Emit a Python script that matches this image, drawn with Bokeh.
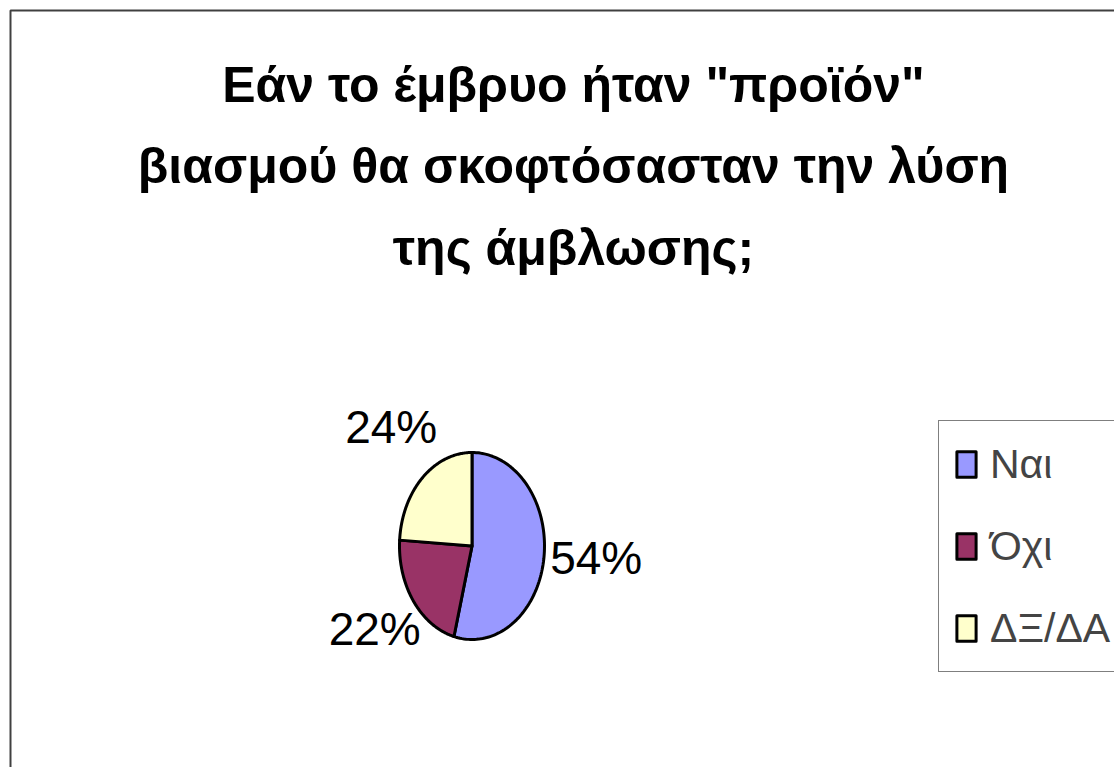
import numpy as np
from bokeh.plotting import figure
from bokeh.models import ColumnDataSource, Range1d, Label, BoxAnnotation
from bokeh.embed import file_html
from bokeh.resources import INLINE
from bokeh.core.properties import value

# ---- data ----
title_lines = ['Εάν το έμβρυο ήταν "προϊόν"',
               'βιασμού θα σκοφτόσασταν την λύση',
               'της άμβλωσης;']
categories = ["Ναι", "Όχι", "ΔΞ/ΔΑ"]
percentages = [54, 22, 24]
colors = ["#9999FF", "#993366", "#FFFFCC"]

# ---- layout constants ----
W, H = 1114, 767
CX, CY = 471.5, 545.5      # pie centre (pixels)
RX, RY = 72.5, 93.5        # pie semi-axes (pixels)
FONT = "Liberation Sans"

p = figure(width=W, height=H, output_backend="svg", toolbar_location=None,
           x_range=Range1d(0, W), y_range=Range1d(H, 0),
           min_border=0, outline_line_color=None)
p.axis.visible = False
p.grid.visible = False
p.background_fill_color = "white"
p.border_fill_color = "white"

# chart frame (left/top visible, right/bottom outside the window)
p.add_layout(BoxAnnotation(left=10, right=W + 30, top=10, bottom=H + 30,
                           fill_alpha=0, line_color="#404040", line_alpha=1,
                           line_width=2))

# title
for yb, line in zip([84, 165, 247], title_lines):
    p.add_layout(Label(x=573, y=yb, text=line, text_align="center",
                       text_baseline="alphabetic", text_font=FONT,
                       text_font_style="bold", text_font_size="50px",
                       text_color="black"))

# pie slices (clockwise from 12 o'clock)
vals = np.array(percentages, dtype=float)
fr = vals / vals.sum()
ends = np.cumsum(fr)
starts = ends - fr
xs, ys = [], []
for s, e in zip(starts, ends):
    t = np.linspace(s, e, 120) * 2 * np.pi
    xs.append(np.concatenate([[CX], CX + RX * np.sin(t)]).tolist())
    ys.append(np.concatenate([[CY], CY - RY * np.cos(t)]).tolist())
src = ColumnDataSource(dict(xs=xs, ys=ys, cat=categories, color=colors))
p.patches("xs", "ys", source=src, fill_color="color", line_color="black",
          line_width=3, line_join="round", legend_field="cat")

# percentage labels outside the slices
mid = (starts + ends) / 2 * 2 * np.pi
ex = CX + RX * np.sin(mid)
ey = CY - RY * np.cos(mid)
dx, dy = ex - CX, ey - CY
n = np.hypot(dx, dy)
lx = ex + 53 * dx / n
ly = ey + 53 * dy / n
lab = ColumnDataSource(dict(x=lx, y=ly, t=[f"{v:d}%" for v in percentages]))
p.text("x", "y", text="t", source=lab, text_align="center",
       text_baseline="middle", text_font=value(FONT), y_offset=-8,
       text_font_size="46px", text_color="black")

# legend
lg = p.legend[0]
lg.location = (938, 95)
lg.glyph_width = 24
lg.glyph_height = 32
lg.label_height = 56
lg.label_text_font = FONT
lg.label_text_font_size = "41px"
lg.label_standoff = 12
lg.padding = 15
lg.spacing = 26
lg.margin = 0
lg.border_line_color = "black"
lg.border_line_width = 1
lg.background_fill_color = "white"
lg.background_fill_alpha = 1

open("out.html", "w").write(file_html(p, INLINE))
